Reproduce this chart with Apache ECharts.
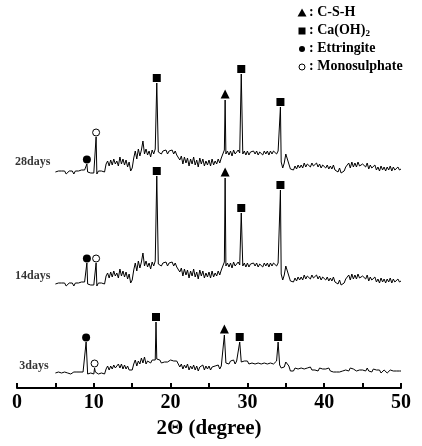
<!DOCTYPE html>
<html>
<head>
<meta charset="utf-8">
<script src="https://cdn.jsdelivr.net/npm/echarts@6/dist/echarts.min.js"></script>
<style>html,body{margin:0;padding:0;background:#fff;}#c{width:422px;height:446px;}</style>
</head>
<body>
<div id="c"></div>
<script>
// ---- data ----
const dayNames = ['28days', '14days', '3days'];
const dayOffsets = [216, 104, 15];          // vertical stacking offset of each pattern
const dayLabelTheta = [2.05, 2.05, 2.2];
const dayLabelRise = [10.5, 8, 7.5];

const scanStart = 5, scanStep = 0.2;        // 2θ scan from 5° to 50°
// background (14 & 28 days patterns share the same shape)
const bgLate = [
  0,-2,1,-1,1,  -1,1,-2,0,1,  -1,1,-2,1,-1,  1,-1,2,0,2,  3,0,1,-1,1,
  -1,1,-2,1,-1,  1,-1,0,8,11,  6,12,7,13,8,  11,6,15,8,13,  7,12,5,10,1,
  4,14,21,13,23,  16,22,31,18,23,  17,21,15,22,18,  23,24,20,22,18,  21,19,22,18,21,
  19,22,18,21,17,  18,12,16,8,15,  9,14,6,13,8,  15,7,12,5,14,  8,13,6,11,7,
  12,6,13,7,11,  8,13,9,14,15,  22,18,21,17,21,  16,22,18,19,22,  19,22,18,21,17,
  21,17,20,18,21,  18,21,17,20,19,  17,21,18,21,17,  21,18,21,20,18,  21,22,10,4,9,
  18,20,8,3,5,  2,6,3,7,4,  7,4,9,5,8,  10,5,9,6,7,  9,5,8,4,7,
  8,4,7,3,6,  3,7,2,3,0,  4,-1,0,1,5,  7,9,4,10,5,  9,5,10,6,4,
  8,10,5,9,3,  7,4,5,7,2,  5,1,6,2,5,  1,5,2,6,1,  5,2,3,5,2,  3
];
const bg3 = [
  0,-1,1,-1,0,  -1,1,-1,0,1,  -1,0,1,-1,1,  0,1,-1,1,2,  1,-1,1,0,1,
  -1,1,0,-1,1,  0,1,-1,4,7,  3,7,4,8,5,  6,9,5,9,4,  8,4,7,3,1,
  3,9,13,7,12,  9,15,10,16,9,  12,14,10,13,11,  13,14,12,13,10,  12,11,13,11,12,
  13,11,12,10,12,  10,6,9,4,8,  5,9,3,7,4,  8,3,7,2,6,  4,8,3,7,4,
  7,3,6,4,7,  5,8,4,7,8,  13,10,12,9,12,  10,13,9,12,13,  12,11,9,12,10,
  12,9,11,10,12,  9,11,10,12,9,  11,10,12,9,11,  10,12,9,11,12,  12,8,5,3,6,
  11,12,7,2,4,  2,5,3,4,2,  5,3,4,2,5,  4,6,3,5,3,  4,2,5,3,4,
  2,4,3,5,2,  3,1,3,1,-1,  1,-1,2,0,3,  4,2,5,3,4,  5,2,4,3,5,
  3,4,2,5,2,  3,1,4,2,3,  2,3,0,2,3,  1,0,2,3,1,  2,0,2,1,2,  2
];

const peakPhases = ['Ettringite', 'Monosulphate', 'Ca(OH)2', 'C-S-H', 'Ca(OH)2', 'Ca(OH)2'];
const peakTheta28 = [9.1, 10.3, 18.2, 27.1, 29.2, 34.3];
const peakTop28   = [8, 35, 89, 72, 98, 65];
const peakTheta14 = [9.1, 10.3, 18.2, 27.1, 29.2, 34.3];
const peakTop14   = [21, 21, 108, 106, 71, 94];
const peakTheta3  = [9.0, 10.1, 18.1, 27.0, 29.0, 34.0];
const peakTop3    = [31, 5, 51, 38, 31, 31];

const xTicks = [0, 10, 20, 30, 40, 50];
const legendNames = ['C-S-H', 'Ca(OH)2', 'Ettringite', 'Monosulphate'];

// ---- build ----
const phaseSymbol = {'C-S-H': 'triangle', 'Ca(OH)2': 'rect', 'Ettringite': 'circle', 'Monosulphate': 'circle'};
const phaseSize = {'C-S-H': [9, 9], 'Ca(OH)2': [8, 8], 'Ettringite': [8, 8], 'Monosulphate': [7, 7]};
const phaseGap = {'C-S-H': 6, 'Ca(OH)2': 5, 'Ettringite': 4.5, 'Monosulphate': 4.5};

const bgs = [bgLate, bgLate, bg3];
const pTheta = [peakTheta28, peakTheta14, peakTheta3];
const pTop = [peakTop28, peakTop14, peakTop3];

const series = [];
const markerData = {}; legendNames.forEach(p => markerData[p] = []);

for (let d = 0; d < 3; d++) {
  const off = dayOffsets[d];
  let pts = bgs[d].map((v, i) => [+(scanStart + i * scanStep).toFixed(2), off + v]);
  const th = pTheta[d], tp = pTop[d];
  pts = pts.filter(p => !th.some(t => Math.abs(t - p[0]) < 0.05));
  th.forEach((t, k) => {
    pts.push([t, off + tp[k]]);
    markerData[peakPhases[k]].push([t, off + tp[k] + phaseGap[peakPhases[k]]]);
  });
  pts.sort((a, b) => a[0] - b[0]);
  series.push({
    type: 'line', name: dayNames[d], data: pts, symbol: 'none', silent: true,
    lineStyle: {color: '#000', width: 1}, z: 2
  });
}

legendNames.forEach(p => {
  const hollow = p === 'Monosulphate';
  series.push({
    type: 'scatter', name: p, data: markerData[p], symbol: phaseSymbol[p], symbolSize: phaseSize[p],
    itemStyle: {color: hollow ? '#fff' : '#000', borderColor: '#000', borderWidth: hollow ? 1 : 0, opacity: 1},
    z: 3, silent: true
  });
});

series.push({
  type: 'scatter', name: 'days', symbolSize: 0, silent: true,
  data: dayNames.map((n, d) => [dayLabelTheta[d], dayOffsets[d] + dayLabelRise[d], n]),
  label: {show: true, position: 'inside', formatter: p => p.value[2],
    fontFamily: 'Liberation Serif', fontWeight: 'bold', fontSize: 12, color: '#000'}
});

// legend drawn as graphic (key box, top right)
const lgX = 302, lgY0 = 13, lgPitch = 18;
const lgText = n => n === 'Ca(OH)2' ? ': Ca(OH){sub|2}' : ': ' + n;
const legendGraphic = [];
legendNames.forEach((n, i) => {
  const cy = lgY0 + i * lgPitch;
  let icon;
  if (n === 'C-S-H') icon = {type: 'polygon', shape: {points: [[lgX, cy - 4.5], [lgX + 4.5, cy + 3.5], [lgX - 4.5, cy + 3.5]]}, style: {fill: '#000'}};
  else if (n === 'Ca(OH)2') icon = {type: 'rect', shape: {x: lgX - 3.5, y: cy - 3.5, width: 7, height: 7}, style: {fill: '#000'}};
  else if (n === 'Ettringite') icon = {type: 'circle', shape: {cx: lgX, cy: cy, r: 3}, style: {fill: '#000'}};
  else icon = {type: 'circle', shape: {cx: lgX, cy: cy, r: 3}, style: {fill: '#fff', stroke: '#000', lineWidth: 1}};
  legendGraphic.push(icon);
  legendGraphic.push({
    type: 'text', left: lgX + 7, top: cy - 8,
    style: {text: lgText(n), fontFamily: 'Liberation Serif', fontWeight: 'bold', fontSize: 14, fill: '#000',
      rich: {sub: {fontFamily: 'Liberation Serif', fontWeight: 'bold', fontSize: 9, fill: '#000', padding: [7, 0, 0, 0]}}}
  });
});

const chart = echarts.init(document.getElementById('c'), null, {renderer: 'canvas'});
chart.setOption({
  animation: false,
  backgroundColor: '#fff',
  grid: {left: 17, right: 21, top: 0, bottom: 58, containLabel: false},
  graphic: legendGraphic,
  xAxis: {
    type: 'value', min: 0, max: 50, interval: 5,
    name: '2\u0398 (degree)', nameLocation: 'middle', nameGap: 23,
    nameTextStyle: {fontFamily: 'Liberation Serif', fontWeight: 'bold', fontSize: 21, color: '#000'},
    axisLine: {lineStyle: {color: '#000', width: 2}},
    axisTick: {inside: true, length: 5, lineStyle: {color: '#000', width: 2}},
    axisLabel: {margin: 5, fontFamily: 'Liberation Serif', fontWeight: 'bold', fontSize: 20, color: '#000',
      formatter: v => xTicks.includes(v) ? String(v) : ''},
    splitLine: {show: false}
  },
  yAxis: {type: 'value', min: 0, max: 388, show: false, splitLine: {show: false}},
  series: series
});
</script>
</body>
</html>
